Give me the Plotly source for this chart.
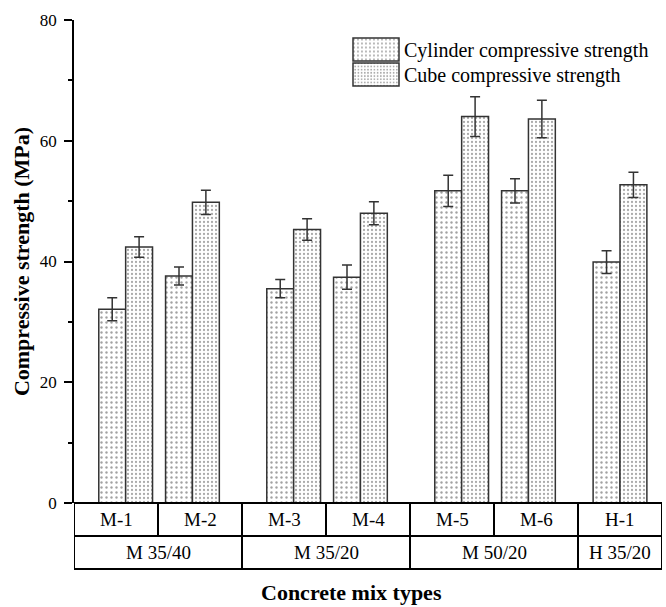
import plotly.graph_objects as go

# Mix designations, grouped by concrete class
mixes = ["M-1", "M-2", "M-3", "M-4", "M-5", "M-6", "H-1"]
groups = ["M 35/40", "M 35/20", "M 50/20", "H 35/20"]
group_sizes = [2, 2, 2, 1]

# Mean strengths (MPa) and their standard deviations
cylinder = [32.1, 37.6, 35.5, 37.4, 51.7, 51.7, 39.9]
cylinder_err = [1.9, 1.5, 1.5, 2.0, 2.6, 2.0, 1.9]
cube = [42.4, 49.8, 45.3, 48.0, 64.0, 63.6, 52.7]
cube_err = [1.7, 2.0, 1.8, 1.9, 3.3, 3.1, 2.1]

y_ticks = [0, 20, 40, 60, 80]

FONT = "Liberation Serif"
BAR_W = 0.32
EDGE = "#333333"

# Each mix occupies one unit of the x axis; pairs sit near the middle of their class
pair_centers = []
start = 0
for n in group_sizes:
    if n == 1:
        pair_centers.append(start + 0.5)
    else:
        mid = start + n / 2
        pair_centers += [mid - 0.385, mid + 0.41]
    start += n
n_cells = start

x_cyl = [c - BAR_W / 2 for c in pair_centers]
x_cube = [c + BAR_W / 2 for c in pair_centers]

fig = go.Figure()
fig.add_trace(go.Bar(
    x=x_cyl, y=cylinder, width=BAR_W, name="Cylinder compressive strength",
    marker=dict(color="white", line=dict(color=EDGE, width=1.5),
                pattern=dict(shape=".", size=5, solidity=0.18, fgcolor="#444444", bgcolor="white")),
    error_y=dict(type="data", array=cylinder_err, color=EDGE, thickness=1.5, width=5),
))
fig.add_trace(go.Bar(
    x=x_cube, y=cube, width=BAR_W, name="Cube compressive strength",
    marker=dict(color="white", line=dict(color=EDGE, width=1.5),
                pattern=dict(shape=".", size=4, solidity=0.25, fgcolor="#555555", bgcolor="white")),
    error_y=dict(type="data", array=cube_err, color=EDGE, thickness=1.5, width=5),
))

# Category table under the axis: mix row and class row
PLOT_H = 483
row1 = -33 / PLOT_H
row2 = -66 / PLOT_H
line = dict(color="black", width=2)
shapes = [
    dict(type="rect", xref="x", yref="paper", x0=0, x1=n_cells, y0=row2, y1=0, line=line),
    dict(type="line", xref="x", yref="paper", x0=0, x1=n_cells, y0=row1, y1=row1, line=line),
]
for i in range(1, n_cells):
    shapes.append(dict(type="line", xref="x", yref="paper", x0=i, x1=i, y0=row1, y1=0, line=line))

cell_font = dict(family=FONT, size=19, color="black")
annotations = []
for i, m in enumerate(mixes):
    annotations.append(dict(x=i + 0.5, y=row1 / 2, xref="x", yref="paper", text=m, showarrow=False,
                            xanchor="center", yanchor="middle", font=cell_font))
start = 0
for g, n in zip(groups, group_sizes):
    if start > 0:
        shapes.append(dict(type="line", xref="x", yref="paper", x0=start, x1=start, y0=row2, y1=row1, line=line))
    annotations.append(dict(x=start + n / 2, y=(row1 + row2) / 2, xref="x", yref="paper", text=g,
                            showarrow=False, xanchor="center", yanchor="middle", font=cell_font))
    start += n

annotations.append(dict(x=(351 - 74) / 588, y=-(592 - 503) / PLOT_H, xref="paper", yref="paper",
                        text="<b>Concrete mix types</b>", showarrow=False,
                        xanchor="center", yanchor="middle",
                        font=dict(family=FONT, size=22, color="black")))

fig.update_layout(
    width=666, height=607,
    margin=dict(l=74, r=4, t=20, b=104),
    plot_bgcolor="white", paper_bgcolor="white",
    barmode="overlay",
    font=dict(family=FONT, color="black"),
    shapes=shapes, annotations=annotations,
    showlegend=True,
    legend=dict(x=(348 - 74) / 588, y=(503 - 30) / PLOT_H, xanchor="left", yanchor="top",
                bgcolor="rgba(0,0,0,0)", itemwidth=46, tracegroupgap=0,
                font=dict(family=FONT, size=20, color="black")),
    xaxis=dict(range=[0, n_cells], showticklabels=False, ticks="", showline=False,
               showgrid=False, zeroline=False),
    yaxis=dict(range=[0, 80], tickvals=y_ticks, ticks="outside", ticklen=8, tickwidth=1.5,
               tickcolor="black", showline=True, linecolor="black", linewidth=1.5,
               showgrid=False, zeroline=False, ticklabelstandoff=4,
               tickfont=dict(family=FONT, size=17, color="black"),
               minor=dict(dtick=10, ticks="outside", ticklen=4, tickwidth=1.5, tickcolor="black",
                          showgrid=False),
               title=dict(text="<b>Compressive strength (MPa)</b>", standoff=4,
                          font=dict(family=FONT, size=22, color="black"))),
)

# Wider legend swatches drawn as boxes like the bars, stacked 25 px apart
post = """
var gd = document.getElementById('{plot_id}');
gd.querySelectorAll('.legend .legendpoints path').forEach(function (p) {
    p.setAttribute('d', 'M23,11.5H-23V-11.5H23Z');
});
var items = gd.querySelectorAll('.legend .traces');
if (items.length) {
    var m = /translate\\(\\s*([-\\d.]+)[ ,]+([-\\d.]+)/.exec(items[0].getAttribute('transform') || '');
    var x0 = m ? parseFloat(m[1]) : 0, y0 = m ? parseFloat(m[2]) : 0;
    items.forEach(function (el, i) {
        el.setAttribute('transform', 'translate(' + x0 + ',' + (y0 + 25 * i) + ')');
    });
}
"""
fig.write_html("out.html", post_script=post)
